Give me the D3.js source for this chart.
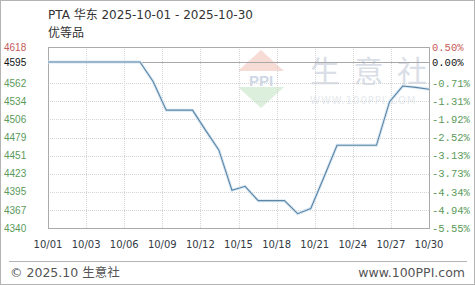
<!DOCTYPE html>
<html>
<head>
<meta charset="utf-8">
<script src="https://cdn.jsdelivr.net/npm/d3@7"></script>
<style>
  html, body { margin: 0; padding: 0; background: #fff; }
  svg { display: block; }
</style>
</head>
<body>
<svg id="chart" width="475" height="285"></svg>
<script>
// --- data ---
var title = "PTA 华东 2025-10-01 - 2025-10-30";
var subtitle = "优等品";
var days = ["2025-10-01","2025-10-02","2025-10-03","2025-10-04","2025-10-05","2025-10-06",
            "2025-10-07","2025-10-08","2025-10-09","2025-10-10","2025-10-11","2025-10-12",
            "2025-10-13","2025-10-14","2025-10-15","2025-10-16","2025-10-17","2025-10-18",
            "2025-10-19","2025-10-20","2025-10-21","2025-10-22","2025-10-23","2025-10-24",
            "2025-10-25","2025-10-26","2025-10-27","2025-10-28","2025-10-29","2025-10-30"];
var prices = [4595,4595,4595,4595,4595,4595,
              4595,4595,4565,4521,4521,4521,
              4490,4460,4398,4404,4382,4382,
              4382,4362,4370,4418,4467,4467,
              4467,4467,4534,4558,4556,4553];
var baseValue = 4595;
var yMin = 4340, yMax = 4618;
var footerLeft = "© 2025.10 生意社";
var footerRight = "www.100PPI.com";
var wmChars = ["生","意","社"];

var W = 475, H = 285;
var PL = 48, PR = 429, PT = 47, PB = 228;

var RED = "#c65a5a", GREEN = "#5a9a5a", GRID = "#d4d4d4";

var parse = d3.timeParse("%Y-%m-%d");
var dates = days.map(parse);

var svg = d3.select("#chart");

svg.append("rect")
  .attr("x",0.5).attr("y",0.5)
  .attr("width",W-1).attr("height",H-1)
  .attr("fill","#fff").attr("stroke","#b4b4b4");

var x = d3.scaleTime()
  .domain([dates[0], dates[dates.length-1]])
  .range([PL, PR]);

var y = d3.scaleLinear()
  .domain([yMin, yMax])
  .range([PB, PT]);

// ten even steps on both axes, as the source chart does
var xt0 = dates[0].getTime(), xt1 = dates[dates.length-1].getTime();
var xTicks = d3.range(11).map(function(i){ return new Date(xt0 + (xt1-xt0)*i/10); });
var yTicks = d3.range(11).map(function(i){ return yMin + (yMax-yMin)*i/10; })
  .filter(function(v){ return Math.abs(y(v)-y(baseValue)) > 6; });

// watermark
var wm = svg.append("g").attr("class","watermark").attr("opacity",0.85);
wm.append("path")
  .attr("d","M261,50 L284,71 L238,71 Z")
  .attr("fill","#f6d6d0");
wm.append("path")
  .attr("d","M238,87 L284,87 L261,108 Z")
  .attr("fill","#d6ecd6");
wm.append("text")
  .attr("x",261).attr("y",86)
  .attr("text-anchor","middle")
  .attr("font-family","Liberation Sans, Arial, sans-serif")
  .attr("font-weight","bold")
  .attr("font-size",15)
  .attr("fill","#c7d2e2")
  .text("PPI");
wm.selectAll("text.wmc")
  .data(wmChars)
  .enter().append("text")
  .attr("class","wmc")
  .attr("x",function(d,i){ return 325 + i*43.5; })
  .attr("y",82)
  .attr("text-anchor","middle")
  .attr("font-family","Noto Sans CJK SC, sans-serif")
  .attr("font-size",30)
  .attr("fill","#d3d9e3")
  .text(function(d){ return d; });
wm.append("text")
  .attr("x",310).attr("y",104)
  .attr("font-family","DejaVu Sans, sans-serif")
  .attr("font-size",10)
  .attr("letter-spacing",1)
  .attr("fill","#e2e6ec")
  .text("WWW.100PPI.COM");

// grid
var grid = svg.append("g").attr("class","grid");
grid.selectAll("line.h")
  .data(yTicks)
  .enter().append("line")
  .attr("class","h")
  .attr("x1",PL).attr("x2",PR)
  .attr("y1",function(d){ return Math.round(y(d))+0.5; })
  .attr("y2",function(d){ return Math.round(y(d))+0.5; })
  .attr("stroke",GRID)
  .attr("stroke-dasharray","1,1");
grid.selectAll("line.v")
  .data(xTicks)
  .enter().append("line")
  .attr("class","v")
  .attr("y1",PT).attr("y2",PB)
  .attr("x1",function(d){ return Math.round(x(d))+0.5; })
  .attr("x2",function(d){ return Math.round(x(d))+0.5; })
  .attr("stroke",GRID)
  .attr("stroke-dasharray","1,1");

// base line
svg.append("line")
  .attr("x1",PL).attr("x2",PR)
  .attr("y1",Math.round(y(baseValue))+0.5)
  .attr("y2",Math.round(y(baseValue))+0.5)
  .attr("stroke","#a8a8a8");

// frame
svg.append("rect")
  .attr("x",PL+0.5).attr("y",PT+0.5)
  .attr("width",PR-PL).attr("height",PB-PT)
  .attr("fill","none")
  .attr("stroke","#aaaaaa");

// price line
var line = d3.line()
  .x(function(d,i){ return x(dates[i]); })
  .y(function(d){ return y(d); });

svg.append("path")
  .datum(prices)
  .attr("d",line)
  .attr("fill","none")
  .attr("stroke","#d8e6f1")
  .attr("stroke-width",3);
svg.append("path")
  .datum(prices)
  .attr("d",line)
  .attr("fill","none")
  .attr("stroke","#5a86a8")
  .attr("stroke-width",1.1);

// left axis labels
var leftVals = yTicks.concat([baseValue]);
function labelColor(v){
  if (Math.abs(v-baseValue) < 0.01) return "#111";
  return v > baseValue ? RED : GREEN;
}
svg.append("g").selectAll("text")
  .data(leftVals)
  .enter().append("text")
  .attr("x",4)
  .attr("y",function(d){ return y(d); })
  .attr("dy","0.36em")
  .attr("font-family","Liberation Sans, Arial, sans-serif")
  .attr("font-size",10)
  .attr("fill",labelColor)
  .text(function(d){ return Math.floor(d); });

// right axis labels
svg.append("g").selectAll("text")
  .data(leftVals)
  .enter().append("text")
  .attr("x",432)
  .attr("y",function(d){ return y(d); })
  .attr("dy","0.36em")
  .attr("font-family","Liberation Mono, monospace")
  .attr("font-size",10.5)
  .attr("fill",labelColor)
  .text(function(d){ return ((d/baseValue-1)*100).toFixed(2) + "%"; });

// x labels
var fmt = d3.timeFormat("%m/%d");
svg.append("g").selectAll("text")
  .data(xTicks)
  .enter().append("text")
  .attr("x",function(d){ return x(d); })
  .attr("y",248)
  .attr("text-anchor","middle")
  .attr("font-family","DejaVu Sans, sans-serif")
  .attr("font-size",10)
  .attr("fill","#333a44")
  .text(fmt);

// titles
svg.append("text")
  .attr("x",48).attr("y",19)
  .attr("font-family","DejaVu Sans, Noto Sans CJK SC, sans-serif")
  .attr("font-size",12)
  .attr("fill","#333")
  .text(title);
svg.append("text")
  .attr("x",48).attr("y",37)
  .attr("font-family","Noto Sans CJK SC, sans-serif")
  .attr("font-size",12)
  .attr("fill","#333")
  .text(subtitle);

// footer
svg.append("line")
  .attr("x1",9).attr("x2",467)
  .attr("y1",261.5).attr("y2",261.5)
  .attr("stroke","#b4b4b4");
svg.append("text")
  .attr("x",10).attr("y",277)
  .attr("font-family","DejaVu Sans, Noto Sans CJK SC, sans-serif")
  .attr("font-size",12.5)
  .attr("fill","#555")
  .text(footerLeft);
svg.append("text")
  .attr("x",465).attr("y",277)
  .attr("text-anchor","end")
  .attr("font-family","DejaVu Sans, sans-serif")
  .attr("font-size",12.5)
  .attr("fill","#555")
  .text(footerRight);
</script>
</body>
</html>
